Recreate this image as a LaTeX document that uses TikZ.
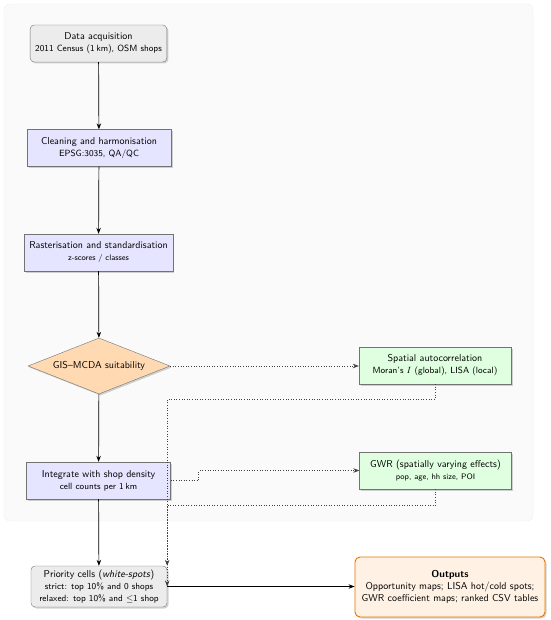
\documentclass[tikz,border=0pt]{standalone}
\usetikzlibrary{shapes.geometric,arrows.meta,shadows}

\begin{document}
\begin{tikzpicture}[x=1pt,y=-1pt,font=\sffamily,>={Stealth[length=6pt,width=4.5pt]},
  shade/.style={drop shadow={opacity=0.35,shadow xshift=1.5pt,shadow yshift=-1.5pt}},
  stepbox/.style={draw=black!55,fill=blue!10,align=center,inner sep=5pt,minimum width=144pt,minimum height=37pt,shade},
  endbox/.style={stepbox,fill=gray!15,rounded corners=4pt,minimum width=136pt},
  sidebox/.style={stepbox,fill=green!12,minimum width=152pt},
  decide/.style={diamond,aspect=2.5,draw=black!55,fill=orange!30,inner sep=0pt,minimum width=142pt,minimum height=56pt,shade},
  outbox/.style={draw=orange!90!black,line width=0.9pt,fill=orange!10,rounded corners=5pt,align=center,inner sep=4pt,minimum width=190pt,minimum height=60pt,shade},
  flow/.style={->,line width=0.7pt},
  link/.style={->,dotted,line width=0.6pt,black!75}]
\useasboundingbox (0,0) rectangle (550,620);
\filldraw[fill=gray!4,draw=gray!12,rounded corners=6pt] (4,4) rectangle (533,521);

% main column
\node[endbox] (acq) at (98.5,43.5) {{\normalsize Data acquisition}\\{\small 2011 Census (1\,km), OSM shops}};
\node[stepbox] (clean) at (99,148) {{\normalsize Cleaning and harmonisation}\\{\small EPSG:3035, QA/QC}};
\node[stepbox] (rast) at (98.5,252.5) {{\normalsize Rasterisation and standardisation}\\{\footnotesize z-scores / classes}};
\node[decide] (gis) at (99,366) {\normalsize GIS--MCDA suitability};
\node[stepbox] (integ) at (98.5,480.5) {{\normalsize Integrate with shop density}\\{\small cell counts per 1\,km}};
\node[endbox,minimum height=41pt,inner sep=3pt] (prio) at (99,586.5) {{\normalsize Priority cells (\textit{white-spots})}\\{\small strict: top 10\% and 0 shops}\\{\small relaxed: top 10\% and $\leq$1 shop}};

% side analyses
\node[sidebox] (spat) at (435,365.5) {{\normalsize Spatial autocorrelation}\\{\small Moran's $I$ (global), LISA (local)}};
\node[sidebox] (gwr) at (435.5,470.5) {{\normalsize GWR (spatially varying effects)}\\{\footnotesize pop, age, hh size, POI}};
\node[outbox] (out) at (450,587) {{\normalsize\bfseries Outputs}\\{\normalsize Opportunity maps; LISA hot/cold spots;}\\{\normalsize GWR coefficient maps; ranked CSV tables}};

\draw[flow] (acq) -- (clean);
\draw[flow] (clean) -- (rast);
\draw[flow] (rast) -- (gis);
\draw[flow] (gis) -- (integ);
\draw[flow] (integ) -- (prio);
\draw[flow] (prio.east) -- (prio.east -| out.west);

\draw[link] (gis.east) -- (gis.east -| spat.west);
\draw[link] (integ.east) -- ++(28,0) |- (gwr.west);
\draw[link] (spat.south) -- ++(0,15) -| (prio.north east);
\draw[link] (gwr.south) -- ++(0,16) -| (prio.east);
\end{tikzpicture}
\end{document}
